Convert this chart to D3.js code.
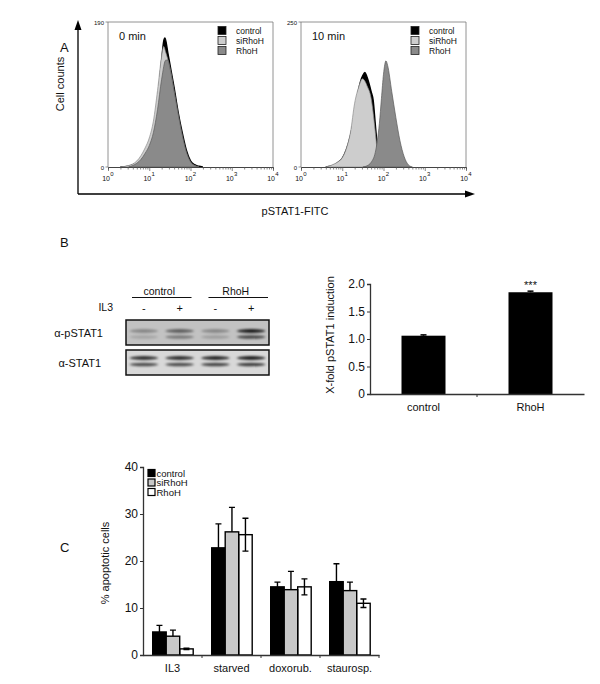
<!DOCTYPE html>
<html><head><meta charset="utf-8">
<script src="https://cdn.jsdelivr.net/npm/d3@7"></script>
<style>
body{margin:0;background:#fff}
svg{display:block}
text{font-family:"Liberation Sans",Arial,Helvetica,sans-serif;fill:#111}
</style></head>
<body><svg id="fig" width="600" height="684"></svg>
<script>
// ---------------- DATA ----------------
// Panel A: flow cytometry histograms ([log10 FITC intensity, cell count])
const histSeries = ["control", "siRhoH", "RhoH"];
const histTimes = ["0 min", "10 min"];
const histYMax = [190, 250];
const histDecades = [1, 10, 100, 1000, 10000];
const hist0Control = [[0.3,0],[0.5,1],[0.6,3],[0.7,6],[0.8,12],[0.9,20],[1.0,30],[1.1,48],[1.2,85],[1.3,140],[1.35,165],[1.38,169],[1.45,150],[1.5,135],[1.6,105],[1.7,72],[1.8,45],[1.9,22],[2.0,8],[2.1,3],[2.2,1],[2.3,0]];
const hist0SiRhoH = [[0.3,0],[0.5,2],[0.6,4],[0.7,8],[0.8,15],[0.9,25],[1.0,38],[1.1,60],[1.2,100],[1.3,145],[1.35,158],[1.4,150],[1.5,130],[1.6,100],[1.7,68],[1.8,40],[1.9,18],[2.0,6],[2.1,2],[2.2,0]];
const hist0RhoH = [[0.5,0],[0.6,2],[0.7,5],[0.8,10],[0.9,18],[1.0,28],[1.1,45],[1.2,75],[1.3,115],[1.4,140],[1.45,140],[1.5,130],[1.6,100],[1.7,70],[1.8,42],[1.9,20],[2.0,7],[2.1,2],[2.2,0]];
const hist10Control = [[0.6,0],[0.8,3],[0.9,8],[1.0,15],[1.1,30],[1.2,55],[1.3,90],[1.4,135],[1.5,158],[1.55,163],[1.6,155],[1.7,130],[1.75,115],[1.8,75],[1.85,35],[1.9,8],[2.0,0]];
const hist10SiRhoH = [[0.6,0],[0.7,2],[0.8,5],[0.9,9],[1.0,16],[1.1,32],[1.2,60],[1.3,110],[1.4,138],[1.49,152],[1.55,148],[1.6,140],[1.7,118],[1.8,60],[1.85,25],[1.9,3],[2.0,0]];
const hist10RhoH = [[1.5,0],[1.6,2],[1.7,8],[1.8,25],[1.85,45],[1.9,75],[1.95,118],[2.0,160],[2.06,183],[2.1,175],[2.2,130],[2.3,85],[2.4,45],[2.5,18],[2.6,4],[2.7,0]];

// Panel B: western blot lanes and quantification
const blotGroups = ["control", "RhoH"];
const blotLanes = ["-", "+", "-", "+"];
const pSTAT1Upper = [0.35, 0.60, 0.35, 1.00];
const pSTAT1Lower = [0.20, 0.50, 0.25, 0.85];
const stat1Upper = [0.90, 0.90, 0.95, 1.00];
const stat1Lower = [0.85, 0.85, 0.90, 0.95];
const bCategories = ["control", "RhoH"];
const bValues = [1.06, 1.85];
const bErrors = [0.015, 0.02];
const bTicks = [0, 0.5, 1.0, 1.5, 2.0];

// Panel C: apoptosis
const cGroups = ["IL3", "starved", "doxorub.", "staurosp."];
const cSeries = ["control", "siRhoH", "RhoH"];
const cControl = [4.9, 22.8, 14.5, 15.6];
const cControlErr = [1.4, 5.1, 1.0, 3.8];
const cSiRhoH = [4.0, 26.2, 13.9, 13.7];
const cSiRhoHErr = [1.3, 5.2, 3.9, 1.8];
const cRhoH = [1.3, 25.6, 14.5, 11.0];
const cRhoHErr = [0.15, 3.5, 1.7, 0.9];
const cTicks = [0, 10, 20, 30, 40];

// ---------------- DRAWING ----------------
const svg = d3.select("#fig");
const FONT = '"Liberation Sans",Arial,Helvetica,sans-serif';

// panel letters
[["A", 60, 52], ["B", 60, 247], ["C", 60, 552]].forEach(([t, x, y]) =>
  svg.append("text").attr("x", x).attr("y", y).attr("font-size", 13).text(t));

// ---- Panel A ----
const histFill = ["#000000", "#cdcdcd", "#8a8a8a"];
const histStroke = ["#000000", "#8c8c8c", "#5a5a5a"];
const histLeft = [108, 301];
const histW = 165, histTop = 22, histBot = 167;
const histData = [[hist0Control, hist0SiRhoH, hist0RhoH], [hist10Control, hist10SiRhoH, hist10RhoH]];
const legendX = [218, 411];

// big arrows
const ax = svg.append("g");
ax.append("path").attr("d", "M78,194 L78,28 M78,194 L466,194").attr("stroke", "#000").attr("stroke-width", 1.3).attr("fill", "none");
ax.append("path").attr("d", "M78,20 L74.5,30 L81.5,30 Z").attr("fill", "#000");
ax.append("path").attr("d", "M475,194 L465,190.5 L465,197.5 Z").attr("fill", "#000");
svg.append("text").attr("x", 295).attr("y", 215).attr("text-anchor", "middle").attr("font-size", 11).text("pSTAT1-FITC");
svg.append("text").attr("transform", "translate(64,84) rotate(-90)").attr("text-anchor", "middle").attr("font-size", 11).text("Cell counts");

histTimes.forEach((lab, i) => {
  const g = svg.append("g");
  const x = d3.scaleLog().domain([1, 1e4]).range([histLeft[i], histLeft[i] + histW]);
  const y = d3.scaleLinear().domain([0, histYMax[i]]).range([histBot, histTop]);
  const area = d3.area()
    .x(d => x(Math.pow(10, d[0])))
    .y0(y(0))
    .y1(d => y(d[1]))
    .curve(d3.curveMonotoneX);
  histData[i].forEach((s, k) => {
    g.append("path").attr("d", area(s)).attr("fill", histFill[k])
      .attr("stroke", histStroke[k]).attr("stroke-width", k === 0 ? 1.4 : 0.7);
  });
  // frame
  g.append("path").attr("d", `M${x.range()[0]},${histBot} V${histTop} H${x.range()[1]} V${histBot}`)
    .attr("fill", "none").attr("stroke", "#777").attr("stroke-width", 0.8);
  // bottom axis with log minor ticks
  const axG = g.append("g").attr("transform", `translate(0,${histBot})`)
    .call(d3.axisBottom(x).tickValues(x.ticks()).tickSize(2.5).tickFormat(""));
  axG.select(".domain").attr("stroke", "#444").attr("stroke-width", 1);
  axG.selectAll(".tick line").attr("stroke", "#555").attr("stroke-width", 0.7)
    .filter(d => histDecades.includes(d)).attr("y2", 4);
  // decade labels 10^n
  histDecades.forEach((d, n) => {
    g.append("text").attr("x", x(d) + 2).attr("y", 180.5).attr("text-anchor", "end")
      .attr("font-size", 7).attr("fill", "#444").text("10");
    g.append("text").attr("x", x(d) + 2.3).attr("y", 175.5).attr("font-size", 6)
      .attr("fill", "#444").text(n);
  });
  // y labels
  const yl = x.range()[0] - 4;
  g.append("text").attr("x", yl).attr("y", y(histYMax[i]) + 2.5).attr("text-anchor", "end")
    .attr("font-size", 6).attr("fill", "#444").text(histYMax[i]);
  g.append("text").attr("x", yl).attr("y", y(0) + 2.5).attr("text-anchor", "end")
    .attr("font-size", 6).attr("fill", "#444").text("0");
  g.append("path").attr("d", `M${x.range()[0] - 2.5},${y(histYMax[i])}H${x.range()[0]}M${x.range()[0] - 2.5},${y(0)}H${x.range()[0]}`)
    .attr("stroke", "#666").attr("stroke-width", 0.7);
  // time label
  g.append("text").attr("x", x.range()[0] + 11).attr("y", 40).attr("font-size", 11).text(lab);
  // legend
  histSeries.forEach((s, k) => {
    g.append("rect").attr("x", legendX[i]).attr("y", 26.5 + k * 10).attr("width", 8).attr("height", 8)
      .attr("fill", histFill[k]).attr("stroke", "#222").attr("stroke-width", 0.8);
    g.append("text").attr("x", legendX[i] + 18).attr("y", 33.5 + k * 10).attr("font-size", 8.5).text(s);
  });
});

// ---- Panel B: western blot ----
const blot = svg.append("g");
const defs = svg.append("defs");
defs.append("filter").attr("id", "blur").attr("x", "-50%").attr("y", "-200%").attr("width", "200%").attr("height", "500%")
  .append("feGaussianBlur").attr("stdDeviation", "1.6 0.9");
const lane = d3.scaleBand().domain(d3.range(blotLanes.length)).range([126, 269]);
const grp = d3.scaleBand().domain(blotGroups).range([126, 269]).paddingInner(0.13);
blotGroups.forEach(gname => {
  const cx = grp(gname) + grp.bandwidth() / 2;
  blot.append("text").attr("x", cx).attr("y", 295).attr("text-anchor", "middle").attr("font-size", 10.5).text(gname);
  blot.append("line").attr("x1", grp(gname) + 6).attr("x2", grp(gname) + grp.bandwidth() - 1).attr("y1", 297.5).attr("y2", 297.5)
    .attr("stroke", "#111").attr("stroke-width", 1);
});
blot.append("text").attr("x", 113).attr("y", 311).attr("text-anchor", "end").attr("font-size", 10.5).text("IL3");
blotLanes.forEach((s, i) => {
  blot.append("text").attr("x", lane(i) + lane.bandwidth() / 2).attr("y", 311.5).attr("text-anchor", "middle")
    .attr("font-size", 11).text(s);
});
// blot boxes
const boxes = [{y: 320, h: 25, bg: "#c2c2c2", up: pSTAT1Upper, lo: pSTAT1Lower, yu: 331, yl: 337, label: "α-pSTAT1", lx: 103},
               {y: 350, h: 25, bg: "#d8d8d8", up: stat1Upper, lo: stat1Lower, yu: 358, yl: 364.5, label: "α-STAT1", lx: 101}];
boxes.forEach(b => {
  blot.append("rect").attr("x", 126).attr("y", b.y).attr("width", 143).attr("height", b.h).attr("fill", b.bg);
  const bands = blot.append("g").attr("filter", "url(#blur)");
  blotLanes.forEach((s, i) => {
    const cx = lane(i) + lane.bandwidth() / 2;
    bands.append("ellipse").attr("cx", cx).attr("cy", b.yu).attr("rx", 14).attr("ry", 1.9)
      .attr("fill", "#000").attr("opacity", b.up[i] * 0.85);
    bands.append("ellipse").attr("cx", cx).attr("cy", b.yl).attr("rx", 14).attr("ry", 1.7)
      .attr("fill", "#000").attr("opacity", b.lo[i] * 0.75);
  });
  blot.append("rect").attr("x", 126).attr("y", b.y).attr("width", 143).attr("height", b.h)
    .attr("fill", "none").attr("stroke", "#111").attr("stroke-width", 1.5);
  blot.append("text").attr("x", b.lx).attr("y", b.y + b.h / 2 + 4).attr("text-anchor", "end").attr("font-size", 11).text(b.label);
});

// ---- Panel B: bar chart ----
const bx = d3.scaleBand().domain(bCategories).range([370, 584]);
const by = d3.scaleLinear().domain([0, 2]).range([394, 284]);
const bg = svg.append("g");
const bw = 44;
bCategories.forEach((c, i) => {
  const cx = bx(c) + bx.bandwidth() / 2;
  bg.append("line").attr("x1", cx).attr("x2", cx).attr("y1", by(bValues[i] + bErrors[i])).attr("y2", by(bValues[i]))
    .attr("stroke", "#000").attr("stroke-width", 1.5);
  bg.append("line").attr("x1", cx - 3).attr("x2", cx + 3).attr("y1", by(bValues[i] + bErrors[i])).attr("y2", by(bValues[i] + bErrors[i]))
    .attr("stroke", "#000").attr("stroke-width", 1.5);
  bg.append("rect").attr("x", cx - bw / 2).attr("y", by(bValues[i])).attr("width", bw).attr("height", by(0) - by(bValues[i]))
    .attr("fill", "#000");
  bg.append("text").attr("x", cx).attr("y", 411).attr("text-anchor", "middle").attr("font-size", 11).text(c);
});
bg.append("text").attr("x", bx("RhoH") + bx.bandwidth() / 2).attr("y", 289).attr("text-anchor", "middle").attr("font-size", 11).text("***");
const byAxis = bg.append("g").attr("transform", "translate(370,0)")
  .call(d3.axisLeft(by).tickValues(bTicks).tickSize(3).tickFormat(d => d === 0 ? "0" : d3.format(".1f")(d)));
byAxis.select(".domain").attr("stroke", "#333").attr("stroke-width", 1.3);
byAxis.selectAll(".tick line").attr("stroke", "#333");
byAxis.selectAll(".tick text").attr("font-size", 12).attr("font-family", FONT).attr("fill", "#111").attr("x", -5);
const bxAxis = bg.append("g").attr("transform", "translate(0,394)")
  .call(d3.axisBottom(bx).tickSize(0).tickFormat(""));
bxAxis.select(".domain").attr("stroke", "#333").attr("stroke-width", 1.3);
bg.append("line").attr("x1", bx("RhoH")).attr("x2", bx("RhoH")).attr("y1", 394).attr("y2", 397).attr("stroke", "#333");
bg.append("text").attr("transform", "translate(334,335) rotate(-90)").attr("text-anchor", "middle").attr("font-size", 11)
  .text("X-fold pSTAT1 induction");

// ---- Panel C ----
const cx = d3.scaleBand().domain(cGroups).range([143, 379]);
const cy = d3.scaleLinear().domain([0, 40]).range([655, 467]);
const cInner = d3.scaleBand().domain(cSeries).range([9.7, 50.2]);
const cFill = ["#000000", "#c8c8c8", "none"];
const cVals = [cControl, cSiRhoH, cRhoH];
const cErrs = [cControlErr, cSiRhoHErr, cRhoHErr];
const cg = svg.append("g");
cSeries.forEach((s, k) => {
  cGroups.forEach((gname, j) => {
    const x0 = cx(gname) + cInner(s);
    const w = cInner.bandwidth();
    const m = x0 + w / 2;
    const v = cVals[k][j], e = cErrs[k][j];
    cg.append("path").attr("d", `M${m},${cy(v - e)}V${cy(v + e)}M${m - 3},${cy(v + e)}H${m + 3}M${m - 3},${cy(v - e)}H${m + 3}`)
      .attr("stroke", "#000").attr("stroke-width", 1.4).attr("fill", "none");
    cg.append("rect").attr("x", x0).attr("y", cy(v)).attr("width", w).attr("height", cy(0) - cy(v))
      .attr("fill", cFill[k]).attr("stroke", "#000").attr("stroke-width", 1.4);
  });
});
const cyAxis = cg.append("g").attr("transform", "translate(143,0)")
  .call(d3.axisLeft(cy).tickValues(cTicks).tickSize(3));
cyAxis.select(".domain").attr("stroke", "#333").attr("stroke-width", 1.3);
cyAxis.selectAll(".tick line").attr("stroke", "#333");
cyAxis.selectAll(".tick text").attr("font-size", 12).attr("font-family", FONT).attr("fill", "#111").attr("x", -5);
const cxAxis = cg.append("g").attr("transform", "translate(0,655)")
  .call(d3.axisBottom(cx).tickSize(0).tickFormat(""));
cxAxis.select(".domain").attr("stroke", "#333").attr("stroke-width", 1.3);
cGroups.forEach(gname => {
  cg.append("line").attr("x1", cx(gname) + cx.bandwidth()).attr("x2", cx(gname) + cx.bandwidth())
    .attr("y1", 655).attr("y2", 658).attr("stroke", "#333");
  cg.append("text").attr("x", cx(gname) + cx.bandwidth() / 2).attr("y", 672).attr("text-anchor", "middle")
    .attr("font-size", 11).text(gname);
});
cg.append("text").attr("transform", "translate(109,563) rotate(-90)").attr("text-anchor", "middle").attr("font-size", 11)
  .text("% apoptotic cells");
// legend C
cSeries.forEach((s, k) => {
  cg.append("rect").attr("x", 148).attr("y", 469.5 + k * 9.5).attr("width", 7).attr("height", 7)
    .attr("fill", cFill[k] === "none" ? "#fff" : cFill[k]).attr("stroke", "#000").attr("stroke-width", 1.2);
  cg.append("text").attr("x", 156.5).attr("y", 476.5 + k * 9.5).attr("font-size", 9.5).text(s);
});
</script>
</body></html>
